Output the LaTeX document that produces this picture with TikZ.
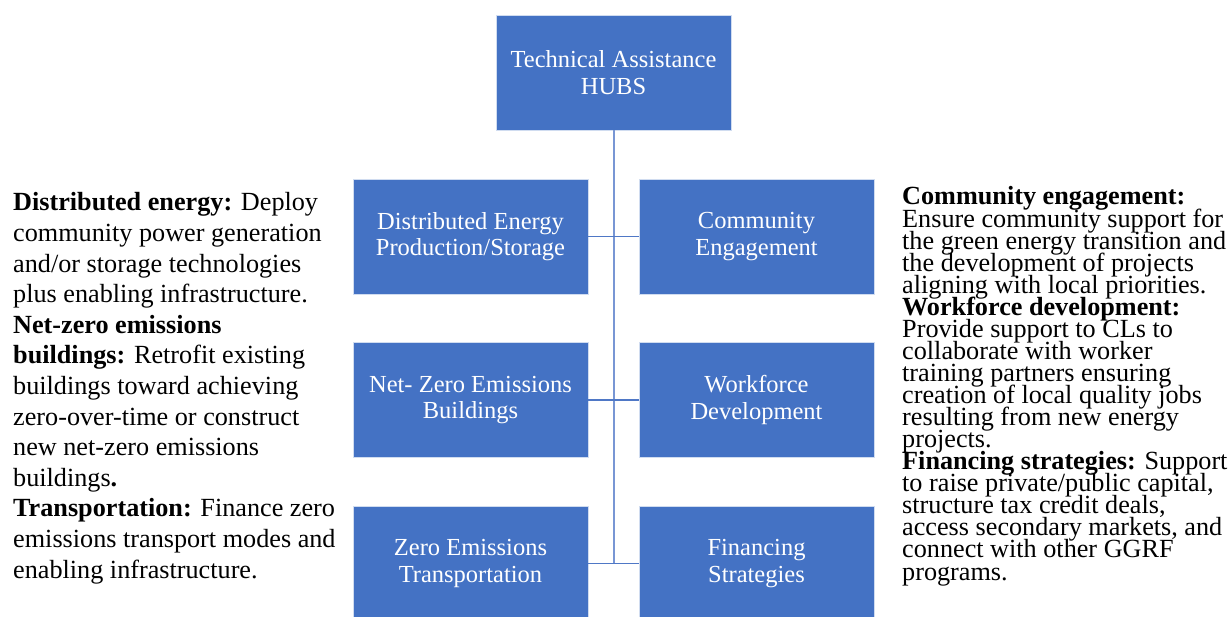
\documentclass[tikz,border=0pt]{standalone}
\usepackage{fontspec}
\setmainfont{Liberation Serif}
\definecolor{boxblue}{HTML}{4472C4}
\definecolor{trunkblue}{HTML}{7896D4}
\definecolor{branchblue}{HTML}{4F78C6}
\begin{document}
\begin{tikzpicture}[x=1pt,y=-1pt,
  orgbox/.style={rectangle, fill=boxblue, draw=white!75!boxblue, line width=0.8pt,
    minimum width=235pt, minimum height=115pt, inner sep=0pt,
    text=white, align=center, font=\fontsize{24.5}{26.7}\selectfont},
  trunk/.style={draw=trunkblue, line width=2pt},
  branch/.style={draw=branchblue, line width=1.5pt},
  notes/.style={anchor=base west, inner sep=0pt, text=black}]
\useasboundingbox (0,0) rectangle (1231,617);
\clip (0,0) rectangle (1231,617);

% hub and the six programme boxes
\node[orgbox] (hub) at (613.5,72.5) {Technical Assistance\\HUBS};
\node[orgbox] (dist) at (470.5,236.5) {Distributed Energy\\Production/Storage};
\node[orgbox] (comm) at (756.5,236.5) {Community\\Engagement};
\node[orgbox] (bldg) at (470.5,400) {Net- Zero Emissions\\Buildings};
\node[orgbox] (work) at (756.5,400) {Workforce\\Development};
\node[orgbox] (trans) at (470.5,563.5) {Zero Emissions\\Transportation};
\node[orgbox] (fin) at (756.5,563.5) {Financing\\Strategies};

% connectors: one trunk down from the hub, one branch per row
\coordinate (trunkend) at (hub.south |- trans.east);
\draw[trunk] (hub.south) -- (trunkend);
\draw[branch] (dist.east) -- (comm.west);
\draw[branch] (bldg.east) -- (work.west);
\draw[branch] (trans.east) -- (fin.west);

% descriptions on the left
\node[notes] (lefttext) at (13,211) {\parbox[t]{340pt}{\raggedright\fontsize{26.2}{30.6}\selectfont
\lineskiplimit=-100pt
\textbf{Distributed energy:} Deploy\\
community power generation\\
and/or storage technologies\\
plus enabling infrastructure.\\
\textbf{Net-zero emissions}\\
\textbf{buildings:} Retrofit existing\\
buildings toward achieving\\
zero-over-time or construct\\
new net-zero emissions\\
buildings\textbf{.}\\
\textbf{Transportation:} Finance zero\\
emissions transport modes and\\
enabling infrastructure.}};

% descriptions on the right, set with tight leading
\node[notes] (righttext) at (902,205) {\parbox[t]{340pt}{\raggedright\fontsize{26.2}{22.06}\selectfont
\lineskiplimit=-100pt
\textbf{Community engagement:}\\
Ensure community support for\\
the green energy transition and\\
the development of projects\\
aligning with local priorities.\\
\textbf{Workforce development:}\\
Provide support to CLs to\\
collaborate with worker\\
training partners ensuring\\
creation of local quality jobs\\
resulting from new energy\\
projects.\\
\textbf{Financing strategies:} Support\\
to raise private/public capital,\\
structure tax credit deals,\\
access secondary markets, and\\
connect with other GGRF\\
programs.}};
\end{tikzpicture}
\end{document}
